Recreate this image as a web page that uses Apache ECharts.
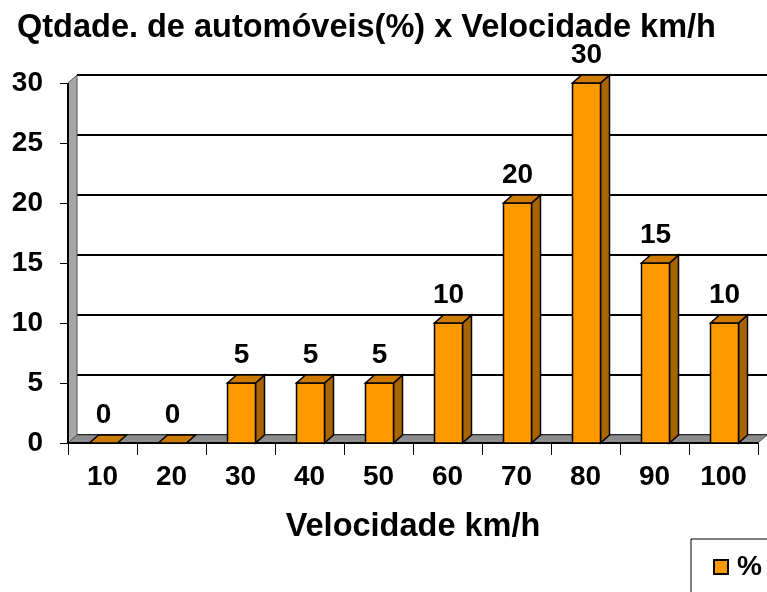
<!DOCTYPE html>
<html>
<head>
<meta charset="utf-8">
<script src="https://cdn.jsdelivr.net/npm/echarts@6/dist/echarts.min.js"></script>
<style>
html, body { margin: 0; padding: 0; background: #fff; }
#chart { width: 767px; height: 592px; }
</style>
</head>
<body>
<div id="chart"></div>
<script>
// dados do gráfico
var velocidades = ['10', '20', '30', '40', '50', '60', '70', '80', '90', '100'];
var percentuais = [0, 0, 5, 5, 5, 10, 20, 30, 15, 10];
var yMin = 0, yMax = 30, yStep = 5;

var FONT = '"Liberation Sans", Arial, sans-serif';
var DX = 9, DY = 8;   // profundidade do efeito 3D
var BAR_W = 28;

var myChart = echarts.init(document.getElementById('chart'));

// paredes (lateral esquerda e piso)
function renderWalls(params, api) {
    var band = api.size([1, 0])[0];
    var left = api.coord([0, yMin])[0] - band / 2;
    var right = api.coord([velocidades.length - 1, yMin])[0] + band / 2;
    var bottom = api.coord([0, yMin])[1];
    var top = api.coord([0, yMax])[1];
    return {
        type: 'group',
        children: [
            {
                type: 'polygon',
                shape: { points: [[left, bottom], [left, top], [left + DX, top - DY], [left + DX, bottom - DY]] },
                style: { fill: '#a6a6a6', stroke: '#555', lineWidth: 1 }
            },
            {
                type: 'polygon',
                shape: { points: [[left, bottom], [right, bottom], [right + DX, bottom - DY], [left + DX, bottom - DY]] },
                style: { fill: '#8c8c8c', stroke: '#555', lineWidth: 1 }
            },
            {
                type: 'line',
                shape: { x1: left, y1: bottom, x2: right, y2: bottom },
                style: { stroke: '#000', lineWidth: 2 }
            },
            {
                type: 'line',
                shape: { x1: left, y1: bottom, x2: left, y2: top },
                style: { stroke: '#000', lineWidth: 2 }
            }
        ]
    };
}

// barras 3D
function renderBar(params, api) {
    var i = api.value(0);
    var v = api.value(1);
    var p = api.coord([i, v]);
    var b = api.coord([i, 0]);
    var x0 = p[0] - BAR_W / 2 + 1;
    var x1 = x0 + BAR_W;
    var yt = p[1];
    var yb = b[1];
    var children = [];
    if (v > 0) {
        children.push({
            type: 'polygon',
            shape: { points: [[x1, yb], [x1, yt], [x1 + DX, yt - DY], [x1 + DX, yb - DY]] },
            style: { fill: '#a86400', stroke: '#000', lineWidth: 1.5 }
        });
        children.push({
            type: 'rect',
            shape: { x: x0, y: yt, width: BAR_W, height: yb - yt },
            style: { fill: '#ff9900', stroke: '#000', lineWidth: 1.5 }
        });
    }
    children.push({
        type: 'polygon',
        shape: { points: [[x0, yt], [x1, yt], [x1 + DX, yt - DY], [x0 + DX, yt - DY]] },
        style: { fill: '#cc7a00', stroke: '#000', lineWidth: 1.5 }
    });
    children.push({
        type: 'text',
        style: {
            text: String(v),
            x: (x0 + x1) / 2,
            y: yt - DY - 6,
            align: 'center',
            verticalAlign: 'bottom',
            font: 'bold 28px ' + FONT,
            fill: '#000'
        }
    });
    return { type: 'group', children: children };
}

var option = {
    animation: false,
    backgroundColor: '#fff',
    title: {
        text: 'Qtdade. de automóveis(%) x Velocidade km/h',
        left: 17,
        top: 12,
        padding: 0,
        textStyle: { fontFamily: FONT, fontSize: 32.5, fontWeight: 'bold', color: '#000' }
    },
    legend: {
        data: ['%'],
        left: 691,
        top: 539,
        padding: [14, 40, 40, 22],
        borderColor: '#000',
        borderWidth: 1,
        icon: 'rect',
        itemWidth: 14,
        itemHeight: 14,
        itemStyle: { color: '#ff9900', borderColor: '#000', borderWidth: 2 },
        textStyle: { fontFamily: FONT, fontSize: 28, fontWeight: 'bold', color: '#000', padding: [0, 0, 0, 4] }
    },
    grid: [
        { left: 68, top: 83, width: 690, height: 360 },
        { left: 68 + DX, top: 83 - DY, width: 690, height: 360 }
    ],
    xAxis: [
        {
            type: 'category',
            gridIndex: 0,
            data: velocidades,
            boundaryGap: true,
            axisLine: { show: false },
            axisTick: { show: true, length: 12, alignWithLabel: false, lineStyle: { color: '#000', width: 1 } },
            axisLabel: { margin: 20, fontFamily: FONT, fontSize: 28, fontWeight: 'bold', color: '#000' },
            name: 'Velocidade km/h',
            nameLocation: 'middle',
            nameGap: 68,
            nameTextStyle: { fontFamily: FONT, fontSize: 32.5, fontWeight: 'bold', color: '#000' }
        },
        {
            type: 'category',
            gridIndex: 1,
            data: velocidades,
            show: false
        }
    ],
    yAxis: [
        {
            type: 'value',
            gridIndex: 0,
            min: yMin,
            max: yMax,
            interval: yStep,
            axisLine: { show: false },
            axisTick: { show: true, length: 8, lineStyle: { color: '#000', width: 1 } },
            axisLabel: { margin: 25, fontFamily: FONT, fontSize: 28, fontWeight: 'bold', color: '#000' },
            splitLine: { show: false }
        },
        {
            type: 'value',
            gridIndex: 1,
            min: yMin,
            max: yMax,
            interval: yStep,
            axisLine: { show: false },
            axisTick: { show: false },
            axisLabel: { show: false },
            splitLine: { show: true, lineStyle: { color: '#000', width: 2 } }
        }
    ],
    series: [
        {
            name: 'paredes',
            type: 'custom',
            xAxisIndex: 0,
            yAxisIndex: 0,
            renderItem: renderWalls,
            data: [[0, 0]],
            silent: true,
            z: 1
        },
        {
            name: '%',
            type: 'custom',
            xAxisIndex: 0,
            yAxisIndex: 0,
            itemStyle: { color: '#ff9900' },
            encode: { x: 0, y: 1 },
            renderItem: renderBar,
            data: percentuais.map(function(v, i) { return [i, v]; }),
            z: 5
        }
    ]
};
myChart.setOption(option);
</script>
</body>
</html>
